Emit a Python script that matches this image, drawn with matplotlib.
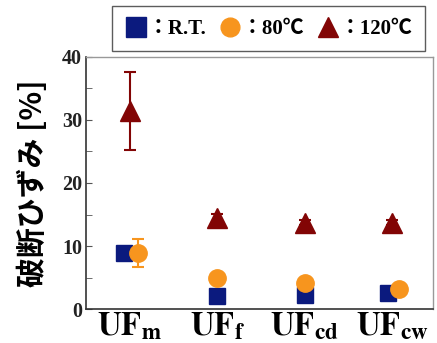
import matplotlib
matplotlib.use('Agg')
import matplotlib.pyplot as plt
from matplotlib.lines import Line2D
from matplotlib.ticker import MultipleLocator
import numpy as np

# データ
categories = [r'$\mathbf{UF}_{\mathbf{m}}$', r'$\mathbf{UF}_{\mathbf{f}}$',
              r'$\mathbf{UF}_{\mathbf{cd}}$', r'$\mathbf{UF}_{\mathbf{cw}}$']
rt_values = [8.9, 2.1, 2.2, 2.6]
rt_err = [0.8, 0.4, 0.5, 0.4]
rt_shift = [-0.07, 0.0, 0.0, -0.05]
t80_values = [8.9, 4.9, 4.1, 3.2]
t80_err = [2.2, 0.4, 0.9, 0.4]
t80_shift = [0.09, 0.0, 0.0, 0.08]
t120_values = [31.4, 14.5, 13.7, 13.7]
t120_err = [6.2, 0.6, 0.4, 0.4]
t120_shift = [0.0, 0.0, 0.0, 0.0]
legend_labels = ['：R.T.', '：80℃', '：120℃']

c_rt = '#0b1a7e'
c_80 = '#f7951e'
c_120 = '#820505'

plt.rcParams['mathtext.fontset'] = 'stix'
serif = ['Liberation Serif', 'DejaVu Serif']

fig = plt.figure(figsize=(4.37, 3.43), dpi=100)
ax = fig.add_axes([0.197, 0.099, 0.794, 0.735])

x = np.arange(1, len(categories) + 1)

ax.errorbar(x + np.array(rt_shift), rt_values, yerr=rt_err, fmt='s',
            color=c_rt, ms=11.5, capsize=4, elinewidth=1.5, capthick=1.5)
ax.errorbar(x + np.array(t80_shift), t80_values, yerr=t80_err, fmt='o',
            color=c_80, ms=12.5, capsize=4, elinewidth=1.5, capthick=1.5)
ax.errorbar(x + np.array(t120_shift), t120_values, yerr=t120_err, fmt='^',
            color=c_120, ms=14, capsize=4, elinewidth=1.5, capthick=1.5)

ax.set_xlim(0.5, 4.47)
ax.set_ylim(0, 40)
ax.yaxis.set_major_locator(MultipleLocator(10))
ax.yaxis.set_minor_locator(MultipleLocator(5))
ax.tick_params(axis='y', which='both', direction='in', length=4, color='#555555', pad=3)
ax.tick_params(axis='x', length=0, pad=0)
ax.set_xticks(x)
ax.set_xticklabels(categories, fontsize=23.5)

for lab in ax.get_yticklabels():
    lab.set_fontfamily(serif)
    lab.set_fontweight('bold')
    lab.set_fontsize(14.5)
    lab.set_color('#222222')

for s in ['left', 'bottom']:
    ax.spines[s].set_color('#333333')
    ax.spines[s].set_linewidth(1.2)
for s in ['top', 'right']:
    ax.spines[s].set_color('#999999')
    ax.spines[s].set_linewidth(1.0)

ax.set_ylabel('破断ひずみ [%]', fontsize=21.5, fontweight='bold',
              family=['Noto Sans CJK JP', 'Liberation Serif'], labelpad=10)

handles = [Line2D([], [], ls='none', marker='s', ms=14, color=c_rt),
           Line2D([], [], ls='none', marker='o', ms=13.5, color=c_80),
           Line2D([], [], ls='none', marker='^', ms=14.5, color=c_120)]
leg = ax.legend(handles, legend_labels, ncol=3,
                loc='lower center', bbox_to_anchor=(0.525, 1.022),
                borderaxespad=0.0,
                frameon=True, fancybox=False, edgecolor='#333333',
                handletextpad=0.0, columnspacing=0.6, handlelength=1.1,
                borderpad=0.6,
                prop={'family': ['Liberation Serif', 'Noto Sans CJK JP'],
                      'weight': 'bold', 'size': 15})
leg.get_frame().set_linewidth(1.0)

fig.savefig('out.png', dpi=100)
plt.close()
